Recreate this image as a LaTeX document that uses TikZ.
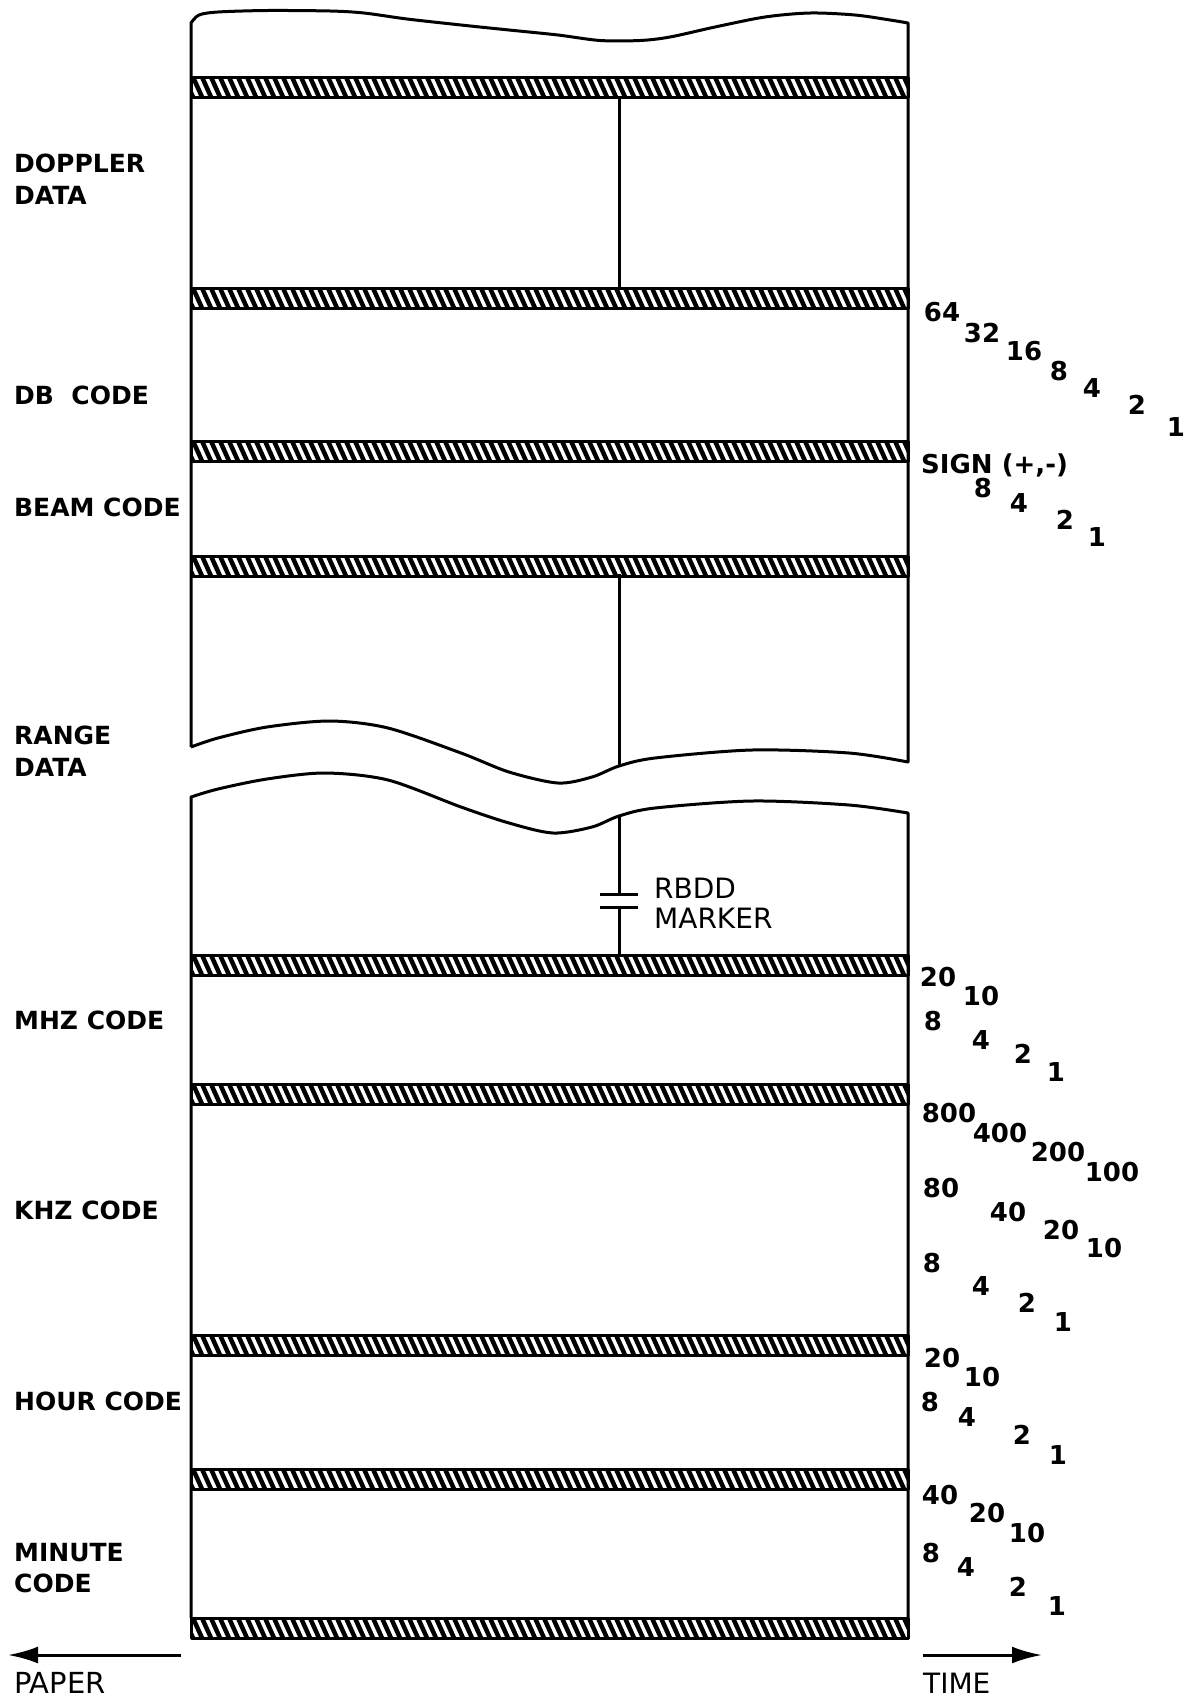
\documentclass[tikz,border=0pt]{standalone}
\usepackage{fontspec}
\setmainfont{DejaVu Sans}
\usetikzlibrary{arrows.meta}
\tikzset{
  tapeline/.style={line width=3pt, line join=round},
  hatchline/.style={line width=4.5pt},
  sidelbl/.style={font=\bfseries\fontsize{25}{31.5}\selectfont, anchor=west, align=left, inner sep=0pt},
  bitlbl/.style={font=\bfseries\fontsize{26}{30}\selectfont, inner sep=0pt},
  notelbl/.style={font=\fontsize{28}{30}\selectfont, anchor=west, align=left, inner sep=0pt},
  dirarrow/.style={-{Latex[length=30pt,width=17pt]}, line width=3pt}
}

\begin{document}
\begin{tikzpicture}[x=1pt,y=-1pt]
  \useasboundingbox (0,0) rectangle (1184,1698);

  % hatched bands across the tape
  \foreach \t in {77,288,441,556,955,1084,1335,1469,1618} {
    \begin{scope}
      \clip (191,\t) rectangle (908,\t+20);
      \foreach \x in {175,184,...,910}
        \draw[hatchline] (\x,\t) -- (\x+9,\t+20);
    \end{scope}
    \draw[tapeline] (191,\t) rectangle (908,\t+20);
  }

  % upper piece of the tape
  \draw[tapeline] (191,747) -- plot[smooth] coordinates {(191,23) (199,15) (218,12) (267,10.5) (330,11) (364,13) (407,19) (461,25) (509,30) (558,35) (600,40.5) (640,40.5) (670,37) (715,27) (765,17) (810,13) (855,15) (890,20) (908,23)}
    -- (908,762) -- plot[smooth] coordinates {(908,762) (849,753) (752,750) (655,758) (619,766) (592,777) (558,783) (509,772) (461,753) (388,728) (330,721) (267,727) (218,738) (191,747)};

  % lower piece of the tape
  \draw[tapeline] (191,1618) -- (191,797) -- plot[smooth] coordinates {(191,797) (218,789) (267,779) (325,773) (388,780) (461,807) (509,823) (553,833) (592,827) (619,816) (655,808) (752,801) (849,805) (908,813)}
    -- (908,1618);

  % split lines and RBDD marker
  \draw[tapeline] (619,97) -- (619,288);
  \draw[tapeline] (619,574) -- (619,766);
  \draw[tapeline] (619,816) -- (619,894);
  \draw[tapeline] (619,907) -- (619,955);
  \draw[tapeline] (600,894) -- (638,894);
  \draw[tapeline] (600,907) -- (638,907);
  \node[notelbl] (rbdd) at (654,903) {RBDD\\MARKER};

  % channel names
  \node[sidelbl] (doppler) at (14,179) {DOPPLER\\DATA};
  \node[sidelbl] (dbcode) at (14,395) {DB\hspace{0.7em}CODE};
  \node[sidelbl] (beamcode) at (14,507) {BEAM CODE};
  \node[sidelbl] (range) at (14,751) {RANGE\\DATA};
  \node[sidelbl] (mhzcode) at (14,1020) {MHZ CODE};
  \node[sidelbl] (khzcode) at (14,1210) {KHZ CODE};
  \node[sidelbl] (hourcode) at (14,1401) {HOUR CODE};
  \node[sidelbl] (minutecode) at (14,1568) {MINUTE\\CODE};

  % bit weights
  \foreach \v/\x/\y [count=\i] in {64/942/312, 32/982/333, 16/1024/351, 8/1059/371, 4/1092/388, 2/1137/405, 1/1176/427}
    \node[bitlbl] (db\i) at (\x,\y) {\v};
  \node[bitlbl, anchor=west] (sign) at (921,465) {SIGN (+,-)};
  \foreach \v/\x/\y [count=\i] in {8/983/488, 4/1019/503, 2/1065/520, 1/1097/537}
    \node[bitlbl] (beam\i) at (\x,\y) {\v};
  \foreach \v/\x/\y [count=\i] in {20/938/977, 10/981/996, 8/933/1021, 4/981/1040, 2/1023/1054, 1/1056/1072}
    \node[bitlbl] (mhz\i) at (\x,\y) {\v};
  \foreach \v/\x/\y [count=\i] in {800/949/1113, 400/1000/1133, 200/1058/1152, 100/1112/1172,
      80/941/1188, 40/1008/1212, 20/1061/1230, 10/1104/1248,
      8/932/1263, 4/981/1286, 2/1027/1303, 1/1063/1322}
    \node[bitlbl] (khz\i) at (\x,\y) {\v};
  \foreach \v/\x/\y [count=\i] in {20/942/1358, 10/982/1377, 8/930/1402, 4/967/1417, 2/1022/1435, 1/1058/1455}
    \node[bitlbl] (hour\i) at (\x,\y) {\v};
  \foreach \v/\x/\y [count=\i] in {40/940/1495, 20/987/1513, 10/1027/1533, 8/931/1553, 4/966/1567, 2/1018/1587, 1/1057/1606}
    \node[bitlbl] (min\i) at (\x,\y) {\v};

  % directions
  \coordinate (paperstart) at (181,1655);
  \coordinate (paperend) at (8,1655);
  \draw[dirarrow] (paperstart) -- (paperend);
  \node[notelbl, font=\fontsize{29}{30}\selectfont] (paper) at (14,1683) {PAPER};
  \coordinate (timestart) at (923,1655);
  \coordinate (timeend) at (1042,1655);
  \draw[dirarrow] (timestart) -- (timeend);
  \node[notelbl] (time) at (923,1683) {TIME};
\end{tikzpicture}
\end{document}
